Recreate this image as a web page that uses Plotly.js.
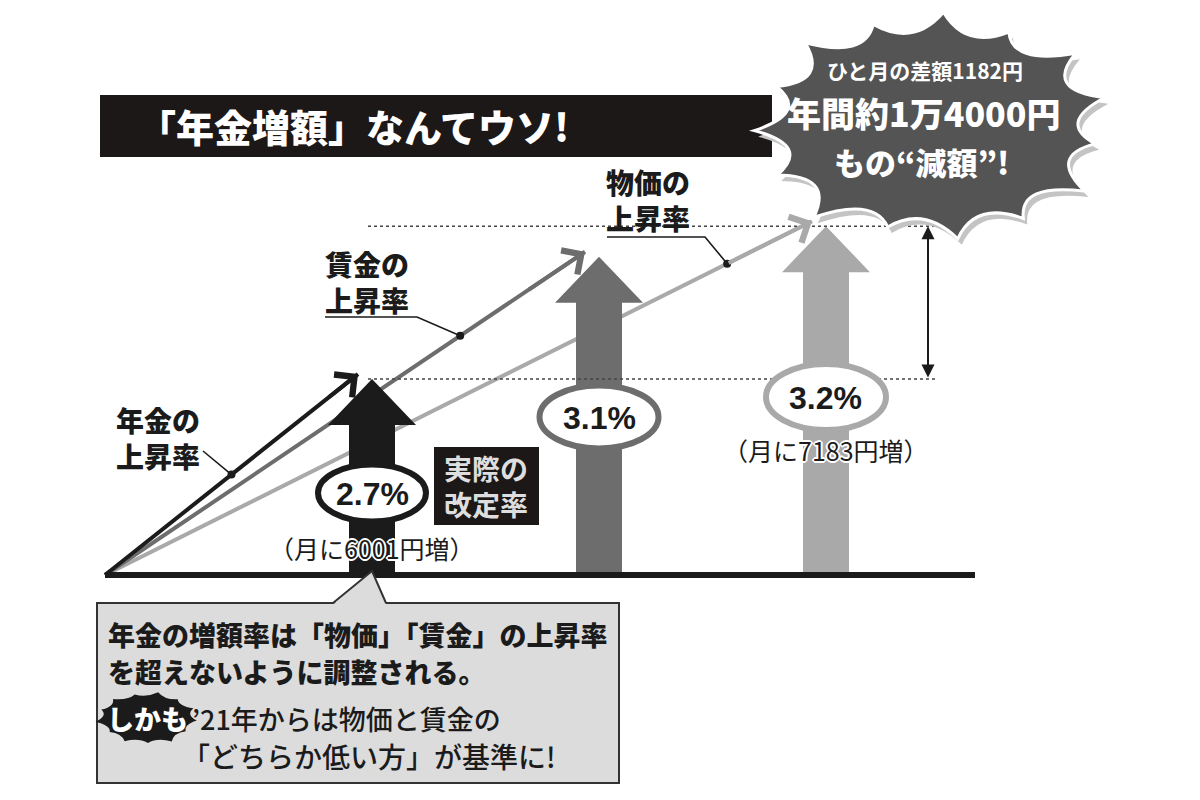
<!DOCTYPE html>
<html>
<head>
<meta charset="utf-8">
<script src="https://cdn.plot.ly/plotly-3.0.1.min.js"></script>
<style>
  html, body { margin: 0; padding: 0; background: #fff; }
  #chart { width: 1200px; height: 800px; }
</style>
</head>
<body>
<div id="chart"></div>
<script>
// data
const series = ["年金", "賃金", "物価"];
const rates = [2.7, 3.1, 3.2];
const monthlyIncrease = [6001, null, 7183];
const lineLabels = ["年金の<br>上昇率", "賃金の<br>上昇率", "物価の<br>上昇率"];
const monthlyGap = 1182;
const yearlyGapText = "年間約1万4000円";

// styles
const colors = ["#1b1b1b", "#6d6d6d", "#a9a9a9"];
const FONT = "Noto Sans CJK JP, sans-serif";
const NUMFONT = "Liberation Sans, Arial, sans-serif";

// page is 1200x800 with zero margins, axis ranges tuned so the arrows sit where they should
const W = 1200, H = 800;
const X_RANGE = [-0.6388, 4.6476];
const Y_RANGE = [1.323, 3.940];
const ux = (X_RANGE[1] - X_RANGE[0]) / W;   // data units per pixel
const uy = (Y_RANGE[1] - Y_RANGE[0]) / H;
function dx(p) { return X_RANGE[0] + p * ux; }
function dy(p) { return Y_RANGE[1] - p * uy; }
function paperX(x) { return (x - X_RANGE[0]) / (X_RANGE[1] - X_RANGE[0]); }
function PX(p) { return p / W; }
function PY(p) { return 1 - p / H; }

const xPos = series.map((s, i) => i + 1);
const BASE = dy(575);
const origin = [dx(105), BASE];

const SW = 23 * ux, HW = 44 * ux, HH = 46 * uy;

let traces = [];

// rate lines from the origin (price, wage, pension so black sits on top)
let lineEnds = [];
series.forEach((s, i) => {
  lineEnds[i] = [xPos[i] - 14 * ux, rates[i] + 5 * uy];
});
[2, 1, 0].forEach(i => {
  traces.push({
    type: "scatter", mode: "lines",
    x: [origin[0], lineEnds[i][0]], y: [origin[1], lineEnds[i][1]],
    line: { color: colors[i], width: 4 }, hoverinfo: "skip"
  });
});

// the big arrows
series.forEach((s, i) => {
  const c = xPos[i], top = rates[i], b = BASE;
  traces.push({
    type: "scatter", mode: "lines", fill: "toself",
    x: [c - SW, c - SW, c - HW, c, c + HW, c + SW, c + SW, c - SW],
    y: [b, top - HH, top - HH, top, top - HH, top - HH, b, b],
    fillcolor: colors[i], line: { width: 0, color: colors[i] }, hoverinfo: "skip"
  });
});

// dotted guide lines at the pension and price levels
[rates[2], rates[0]].forEach(v => {
  traces.push({
    type: "scatter", mode: "lines",
    x: [dx(368), dx(935)], y: [v, v],
    line: { color: "#444", width: 1.5, dash: "dot" }, hoverinfo: "skip"
  });
});

// leader lines to the labels
const dotT = [0.50, 0.74, 0.88];
const leaderPts = [
  [[203, 451]],
  [[325, 317], [417, 317]],
  [[607, 237], [705, 237]]
];
series.forEach((s, i) => {
  const t = dotT[i];
  const dotX = origin[0] + t * (lineEnds[i][0] - origin[0]);
  const dotY = origin[1] + t * (lineEnds[i][1] - origin[1]);
  const xs = leaderPts[i].map(p => dx(p[0])).concat([dotX]);
  const ys = leaderPts[i].map(p => dy(p[1])).concat([dotY]);
  traces.push({
    type: "scatter", mode: "lines", x: xs, y: ys,
    line: { color: "#1b1b1b", width: 1.6 }, hoverinfo: "skip"
  });
  traces.push({
    type: "scatter", mode: "markers", x: [dotX], y: [dotY],
    marker: { color: "#1b1b1b", size: 8 }, hoverinfo: "skip"
  });
});

// baseline
traces.push({
  type: "scatter", mode: "lines",
  x: [origin[0], dx(975)], y: [BASE, BASE],
  line: { color: "#1b1b1b", width: 6 }, hoverinfo: "skip"
});

// spiky balloon path, in pixels converted to paper
function burstPath(cx, cy, rx, ry, n, inner, pattern, rot) {
  const P = (x, y) => PX(x).toFixed(4) + "," + PY(y).toFixed(4);
  let tips = [];
  for (let k = 0; k < n; k++) {
    const a = rot + 2 * Math.PI * k / n;
    const f = pattern[k % pattern.length];
    tips.push([cx + rx * f * Math.cos(a), cy + ry * f * Math.sin(a)]);
  }
  let d = "M" + P(tips[0][0], tips[0][1]);
  for (let k = 0; k < n; k++) {
    const a = rot + 2 * Math.PI * (k + 0.5) / n;
    const nx = tips[(k + 1) % n];
    d += " Q" + P(cx + rx * inner * Math.cos(a), cy + ry * inner * Math.sin(a)) + " " + P(nx[0], nx[1]);
  }
  return d + " Z";
}
const burstPattern = [1.0, 0.93, 1.03, 0.96, 1.0, 0.92, 1.04, 0.97, 1.0, 0.94, 1.02, 0.95, 1.0, 0.93, 1.03];

let shapes = [];
function rect(x0, y0, x1, y1, fill, line, lw) {
  shapes.push({
    type: "rect", xref: "paper", yref: "paper", layer: "above",
    x0: PX(x0), x1: PX(x1), y0: PY(y1), y1: PY(y0),
    fillcolor: fill, line: { color: line || fill, width: lw || 0 }
  });
}

// title band
rect(100, 95, 772, 157, "#1c1818");

// big balloon with shadow
shapes.push({
  type: "path", xref: "paper", yref: "paper", layer: "above",
  path: burstPath(936, 132, 178, 114, 15, 0.70, burstPattern, -0.25),
  fillcolor: "#c4c4c4", line: { width: 0 }
});
shapes.push({
  type: "path", xref: "paper", yref: "paper", layer: "above",
  path: burstPath(932, 126, 178, 114, 15, 0.70, burstPattern, -0.25),
  fillcolor: "#545454", line: { color: "#ffffff", width: 3 }
});

// ellipses round the percentages
const ellipseY = [493, 417, 397];
const ellipseSize = [[108, 57], [119, 63], [120, 66]];
series.forEach((s, i) => {
  const cx = paperX(xPos[i]) * W;
  const [w, h] = ellipseSize[i];
  shapes.push({
    type: "circle", xref: "paper", yref: "paper", layer: "above",
    x0: PX(cx - w / 2), x1: PX(cx + w / 2), y0: PY(ellipseY[i] + h / 2), y1: PY(ellipseY[i] - h / 2),
    fillcolor: "#ffffff", line: { color: colors[i], width: 6 }
  });
});

// "actual revision rate" box
rect(434, 447, 539, 525, "#1c1818");

// bottom callout
rect(97, 603, 619, 783, "#dcdcdc", "#333333", 2);
shapes.push({
  type: "path", xref: "paper", yref: "paper", layer: "above",
  path: "M" + PX(333) + "," + PY(604.5) + " L" + PX(372) + "," + PY(571) + " L" + PX(386) + "," + PY(604.5) + " Z",
  fillcolor: "#dcdcdc", line: { width: 0 }
});
shapes.push({
  type: "path", xref: "paper", yref: "paper", layer: "above",
  path: "M" + PX(333) + "," + PY(603) + " L" + PX(372) + "," + PY(571) + " L" + PX(386) + "," + PY(603),
  fillcolor: "rgba(0,0,0,0)", line: { color: "#333333", width: 2 }
});

// "shikamo" badge
shapes.push({
  type: "path", xref: "paper", yref: "paper", layer: "above",
  path: burstPath(147, 718, 50, 26, 13, 0.78, burstPattern, 0.1),
  fillcolor: "#1b1b1b", line: { width: 0 }
});

// text
let annotations = [];
function txt(text, x, y, size, color, opts) {
  opts = opts || {};
  annotations.push({
    text: text, xref: "paper", yref: "paper", x: PX(x), y: PY(y),
    xanchor: opts.xanchor || "center", yanchor: "middle", showarrow: false,
    align: opts.align || "center",
    font: Object.assign({ family: opts.family || FONT, size: size, color: color, weight: opts.weight || 700 },
      opts.shadow ? { shadow: opts.shadow } : {})
  });
}

txt("「年金増額」なんてウソ!", 353, 126, 38, "#ffffff", { weight: 900 });

// balloon text
txt("ひと月の差額" + monthlyGap + "円", 925, 70, 21, "#ffffff", { weight: 700 });
txt(yearlyGapText, 924, 112, 34, "#ffffff", { weight: 900 });
txt("もの“減額”!", 921, 161, 31, "#ffffff", { weight: 900 });

const labelPos = [[158, 438], [367, 282], [648, 200]];
series.forEach((s, i) => {
  txt(lineLabels[i], labelPos[i][0], labelPos[i][1], 28, "#1b1b1b", { weight: 900 });
  const cx = paperX(xPos[i]) * W;
  txt(rates[i].toFixed(1) + "%", cx, ellipseY[i] + 1, 32, "#1b1b1b", { family: NUMFONT, weight: 700 });
});

const halo = "1px 1px 0 #fff, -1px -1px 0 #fff, 1px -1px 0 #fff, -1px 1px 0 #fff, 0 2px 0 #fff, 0 -2px 0 #fff, 2px 0 0 #fff, -2px 0 0 #fff";
const subY = [548, null, 450];
series.forEach((s, i) => {
  if (monthlyIncrease[i] == null) return;
  const cx = paperX(xPos[i]) * W;
  txt("（月に" + monthlyIncrease[i] + "円増）", cx, subY[i], 25, "#1b1b1b", { weight: 400, shadow: halo });
});

txt("実際の<br>改定率", 486, 486, 28, "#dedede", { weight: 700 });

txt("年金の増額率は「物価」「賃金」の上昇率", 106, 634, 27, "#1b1b1b", { xanchor: "left", align: "left", weight: 900 });
txt("を超えないように調整される。", 106, 671, 27, "#1b1b1b", { xanchor: "left", align: "left", weight: 900 });
txt("しかも", 147, 718, 27, "#ffffff", { weight: 900 });
txt("’21年からは物価と賃金の", 190, 718, 27, "#1b1b1b", { xanchor: "left", align: "left", weight: 500 });
txt("「どちらか低い方」が基準に!", 180, 756, 28, "#1b1b1b", { xanchor: "left", align: "left", weight: 500 });

// chevron heads on the rate lines
series.forEach((s, i) => {
  const t = 0.88;
  annotations.push({
    text: "", xref: "x", yref: "y", axref: "x", ayref: "y",
    x: lineEnds[i][0], y: lineEnds[i][1],
    ax: origin[0] + t * (lineEnds[i][0] - origin[0]),
    ay: origin[1] + t * (lineEnds[i][1] - origin[1]),
    showarrow: true, arrowhead: 4, arrowsize: 1.4, arrowwidth: 4,
    arrowcolor: colors[i], standoff: 0
  });
});

// gap arrow between pension and price
annotations.push({
  text: "", xref: "x", yref: "y", axref: "x", ayref: "y",
  x: dx(928), y: rates[2], ax: dx(928), ay: rates[0],
  showarrow: true, arrowside: "end+start", arrowhead: 2, startarrowhead: 2,
  arrowsize: 1.3, startarrowsize: 1.3, arrowwidth: 2, arrowcolor: "#1b1b1b",
  standoff: 0, startstandoff: 0
});

const layout = {
  width: W, height: H,
  margin: { l: 0, r: 0, t: 0, b: 0 },
  paper_bgcolor: "#ffffff", plot_bgcolor: "#ffffff",
  showlegend: false,
  xaxis: { range: X_RANGE, visible: false, fixedrange: true },
  yaxis: { range: Y_RANGE, visible: false, fixedrange: true },
  shapes: shapes,
  annotations: annotations
};

Plotly.newPlot("chart", traces, layout, { staticPlot: true, displayModeBar: false });
</script>
</body>
</html>
